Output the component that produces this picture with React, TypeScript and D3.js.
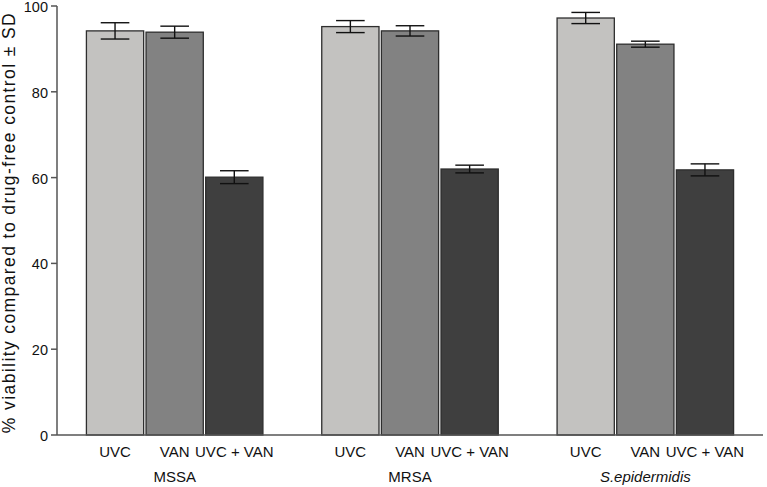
import React from "react";
import * as d3 from "d3";

const groups = ["MSSA", "MRSA", "S.epidermidis"];
const treatments = ["UVC", "VAN", "UVC + VAN"];
const meanMSSA = [94.2, 93.9, 60.1];
const meanMRSA = [95.2, 94.2, 62.0];
const meanSepi = [97.2, 91.1, 61.8];
const sdMSSA = [1.9, 1.4, 1.5];
const sdMRSA = [1.4, 1.2, 0.9];
const sdSepi = [1.3, 0.7, 1.4];
const yTicks = [0, 20, 40, 60, 80, 100];
const colors = ["#c3c2c0", "#828282", "#3f3f3f"];

const means = [meanMSSA, meanMRSA, meanSepi];
const sds = [sdMSSA, sdMRSA, sdSepi];

export default function App() {
  const W = 767, H = 487;
  const x0 = 57, x1 = 763, yTop = 6, yBottom = 435;
  const y = d3.scaleLinear().domain([0, 100]).range([yBottom, yTop]);
  const gx = d3.scaleBand().domain(groups).range([x0, x1]).paddingInner(0.25).paddingOuter(0.125);
  const bx = d3.scaleBand().domain(treatments).range([0, gx.bandwidth()]).paddingInner(0.04);
  const font = "'Liberation Sans', Arial, sans-serif";
  const capW = bx.bandwidth() * 0.5;

  return (
    <svg width={W} height={H} style={{ position: "absolute", left: 0, top: 0 }} fontFamily={font}>
      <rect width={W} height={H} fill="#fff" />
      {groups.map((g, gi) => (
        <g key={g} transform={`translate(${gx(g)},0)`}>
          {treatments.map((t, ti) => {
            const m = means[gi][ti];
            const s = sds[gi][ti];
            const bxp = bx(t)!;
            const cx = bxp + bx.bandwidth() / 2;
            return (
              <g key={t}>
                <rect x={bxp} y={y(m)} width={bx.bandwidth()} height={yBottom - y(m)}
                  fill={colors[ti]} stroke="#2e2e2e" strokeWidth={1.3} />
                <line x1={cx} x2={cx} y1={y(m + s)} y2={y(m - s)} stroke="#111" strokeWidth={1.4} />
                <line x1={cx - capW / 2} x2={cx + capW / 2} y1={y(m + s)} y2={y(m + s)} stroke="#111" strokeWidth={1.4} />
                <line x1={cx - capW / 2} x2={cx + capW / 2} y1={y(m - s)} y2={y(m - s)} stroke="#111" strokeWidth={1.4} />
                <text x={cx} y={457} textAnchor="middle" fontSize={15} fill="#111">{t}</text>
              </g>
            );
          })}
          <text x={gx.bandwidth() / 2} y={482} textAnchor="middle" fontSize={15} fill="#111"
            fontStyle={g === "S.epidermidis" ? "italic" : "normal"}>{g}</text>
        </g>
      ))}
      <line x1={x0} x2={x0} y1={yTop} y2={yBottom} stroke="#555" strokeWidth={1.5} />
      <line x1={x0} x2={x1} y1={yBottom} y2={yBottom} stroke="#555" strokeWidth={1.5} />
      {yTicks.map((t) => (
        <g key={t}>
          <line x1={x0 - 6} x2={x0} y1={y(t)} y2={y(t)} stroke="#555" strokeWidth={1.5} />
          <text x={x0 - 9} y={y(t) + 1} dy="0.35em" textAnchor="end" fontSize={14.5} fill="#111">{t}</text>
        </g>
      ))}
      <text transform={`translate(15,${(yTop + yBottom) / 2 + 2}) rotate(-90)`} textAnchor="middle" fontSize={17.5} letterSpacing={1.4} fill="#111">
        % viability compared to drug-free control ± SD
      </text>
    </svg>
  );
}
